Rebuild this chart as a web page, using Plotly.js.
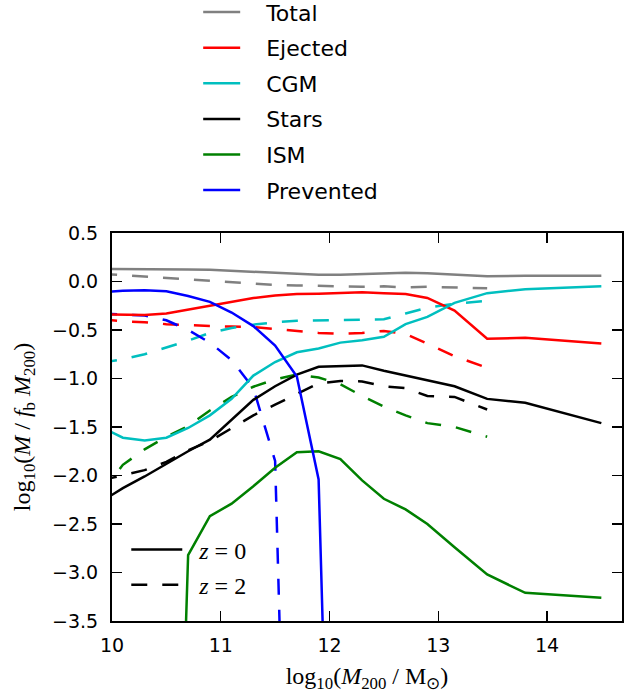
<!DOCTYPE html>
<html>
<head>
<meta charset="utf-8">
<script src="https://cdn.plot.ly/plotly-3.0.1.min.js"></script>
<style>
  html, body { margin: 0; padding: 0; background: #fff; }
  #myGraph { width: 627px; height: 693px; }
</style>
</head>
<body>
<div id="myGraph"></div>
<script>
// halo mass bins, log10(M200 / Msun)
let mass = [9.9, 10.1, 10.3, 10.5, 10.7, 10.9, 11.1, 11.3, 11.5, 11.7, 11.9,
            12.1, 12.3, 12.5, 12.7, 12.9, 13.15, 13.45, 13.8, 14.5];

// z = 0 (solid)
let total_z0     = [0.13, 0.13, 0.13, 0.13, 0.125, 0.12, 0.11, 0.10, 0.09, 0.08, 0.07,
                    0.07, 0.075, 0.08, 0.09, 0.085, 0.07, 0.055, 0.06, 0.06];
let ejected_z0   = [-0.34, -0.34, -0.345, -0.33, -0.29, -0.245, -0.21, -0.17, -0.145, -0.13, -0.125,
                    -0.12, -0.11, -0.12, -0.13, -0.17, -0.30, -0.59, -0.58, -0.64];
let cgm_z0       = [-1.50, -1.61, -1.64, -1.61, -1.51, -1.38, -1.21, -0.97, -0.83, -0.73, -0.69,
                    -0.63, -0.605, -0.57, -0.44, -0.365, -0.22, -0.12, -0.08, -0.05];
let stars_z0     = [-2.27, -2.13, -2.01, -1.88, -1.75, -1.63, -1.42, -1.22, -1.08, -0.96, -0.88,
                    -0.87, -0.865, -0.92, -0.97, -1.025, -1.08, -1.21, -1.25, -1.46];
let ism_z0       = [-10, -10, -10, -10, -2.82, -2.42, -2.29, -2.11, -1.92, -1.76, -1.75,
                    -1.83, -2.05, -2.24, -2.35, -2.50, -2.74, -3.02, -3.21, -3.26];
let prevented_z0 = [-0.11, -0.095, -0.09, -0.10, -0.15, -0.21, -0.32, -0.46, -0.66, -0.98, -2.04,
                    -10, null, null, null, null, null, null, null, null];

// z = 2 (dashed)
let total_z2     = [0.08, 0.065, 0.05, 0.035, 0.02, 0.005, -0.01, -0.025, -0.035, -0.04, -0.045,
                    -0.05, -0.055, -0.05, -0.06, -0.055, -0.06, -0.07, null, null];
let ejected_z2   = [-0.39, -0.41, -0.42, -0.44, -0.45, -0.46, -0.465, -0.47, -0.49, -0.51, -0.53,
                    -0.54, -0.53, -0.51, -0.54, -0.64, -0.77, -0.89, null, null];
let cgm_z2       = [-0.84, -0.80, -0.75, -0.68, -0.61, -0.53, -0.48, -0.445, -0.42, -0.405, -0.40,
                    -0.40, -0.39, -0.39, -0.33, -0.27, -0.23, -0.20, null, null];
let stars_z2     = [-2.05, -2.0, -1.945, -1.86, -1.74, -1.645, -1.51, -1.38, -1.27, -1.16, -1.05,
                    -1.025, -1.03, -1.08, -1.10, -1.18, -1.19, -1.32, null, null];
let ism_z2       = [-2.19, -1.89, -1.73, -1.60, -1.49, -1.33, -1.19, -1.085, -1.01, -0.96, -0.99,
                    -1.06, -1.18, -1.29, -1.38, -1.46, -1.50, -1.60, null, null];
let prevented_z2 = [-0.33, -0.34, -0.35, -0.40, -0.50, -0.63, -0.81, -1.10, -1.85, -10,
                    null, null, null, null, null, null, null, null, null, null];

let names  = ['Total', 'Ejected', 'CGM', 'Stars', 'ISM', 'Prevented'];
let colors = ['#808080', '#ff0000', '#00bfbf', '#000000', '#008000', '#0000ff'];
let z0 = [total_z0, ejected_z0, cgm_z0, stars_z0, ism_z0, prevented_z0];
let z2 = [total_z2, ejected_z2, cgm_z2, stars_z2, ism_z2, prevented_z2];

let pad = '\u00A0\u00A0\u00A0';
let data = [];

names.forEach((n, i) => {
    data.push({
        type: 'scatter', mode: 'lines',
        x: mass, y: z2[i],
        line: {color: colors[i], width: 2.5, dash: '16px,15px'},
        showlegend: false, hoverinfo: 'skip'
    });
});
names.forEach((n, i) => {
    data.push({
        type: 'scatter', mode: 'lines',
        name: pad + n, legendgroup: n,
        x: mass, y: z0[i],
        line: {color: colors[i], width: 2.5},
        legend: 'legend'
    });
});

// redshift key (legend only)
data.push({type: 'scatter', mode: 'lines', x: [null], y: [null],
    name: '\u00A0\u00A0<i>z</i> = 0', legend: 'legend2', legendgroup: 'za',
    line: {color: 'black', width: 2.5}});
data.push({type: 'scatter', mode: 'lines', x: [null], y: [null],
    name: '\u00A0\u00A0<i>z</i> = 2', legend: 'legend2', legendgroup: 'zb',
    line: {color: 'black', width: 2.5, dash: '16px,15px'}});

let axisCommon = {
    showline: true, mirror: 'ticks', linecolor: 'black', linewidth: 2,
    ticks: 'inside', ticklen: 10, tickwidth: 1.3, tickcolor: 'black',
    showgrid: false, zeroline: false,
    tickfont: {family: 'DejaVu Sans', size: 19, color: 'black'}
};

let layout = {
    width: 627, height: 693,
    margin: {l: 112, r: 5, t: 233, b: 72, autoexpand: false},
    paper_bgcolor: 'white', plot_bgcolor: 'white',
    xaxis: Object.assign({}, axisCommon, {
        range: [10, 14.69], dtick: 1, tick0: 10,
        ticklabelstandoff: 6,
        title: {text: 'log<sub>10</sub>(<i>M</i><sub>200</sub> / M<sub>\u2299</sub>)',
                font: {family: 'Liberation Serif', size: 24, color: 'black'}, standoff: 16}
    }),
    yaxis: Object.assign({}, axisCommon, {
        range: [-3.5, 0.5], dtick: 0.5, tick0: 0, tickformat: '.1f',
        ticklabelstandoff: 8,
        title: {text: 'log<sub>10</sub>(<i>M</i> / <i>f</i><sub>b</sub> <i>M</i><sub>200</sub>)',
                font: {family: 'Liberation Serif', size: 24, color: 'black'}, standoff: 15}
    }),
    legend: {
        x: 0.169, xanchor: 'left', y: 1.623, yanchor: 'top',
        font: {family: 'DejaVu Sans', size: 22, color: 'black'},
        itemwidth: 37, tracegroupgap: 4, bgcolor: 'rgba(0,0,0,0)'
    },
    legend2: {
        x: 0.028, xanchor: 'left', y: 0.035, yanchor: 'bottom',
        font: {family: 'Liberation Serif', size: 24, color: 'black'},
        itemwidth: 51, tracegroupgap: 1, bgcolor: 'rgba(0,0,0,0)'
    },
    showlegend: true
};

Plotly.newPlot('myGraph', data, layout, {displayModeBar: false, staticPlot: true});
</script>
</body>
</html>
